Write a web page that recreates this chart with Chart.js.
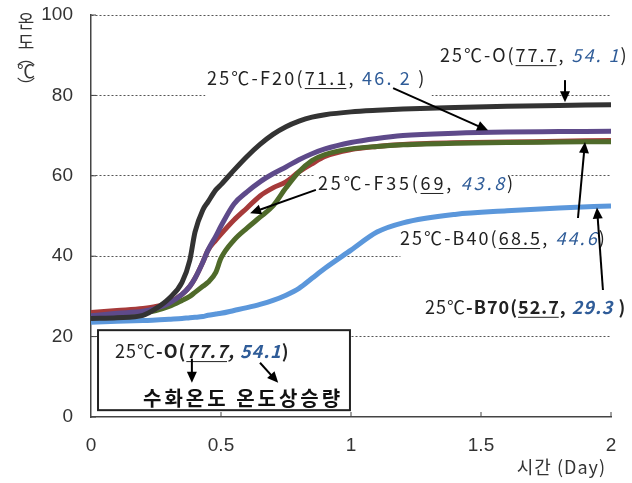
<!DOCTYPE html>
<html>
<head>
<meta charset="utf-8">
<script src="https://cdn.jsdelivr.net/npm/chart.js@4.4.0/dist/chart.umd.min.js"></script>
<style>
  html, body { margin: 0; padding: 0; background: #fff; }
  #wrap { width: 632px; height: 483px; }
</style>
</head>
<body>
<div id="wrap"><canvas id="myChart" width="632" height="483"></canvas></div>
<script>
// time (day)
const times = [0, 0.1, 0.2, 0.25, 0.3, 0.35, 0.38, 0.4, 0.43, 0.45, 0.48, 0.5, 0.55, 0.6, 0.65, 0.7, 0.75, 0.8, 0.85, 0.9, 1.0, 1.1, 1.2, 1.4, 1.6, 1.8, 2.0];
const tempO   = [24.5, 24.7, 25.3, 27, 29.5, 33.5, 39, 46, 51.5, 53.5, 56.5, 57.8, 61.4, 64.8, 67.8, 70.3, 72.2, 73.6, 74.6, 75.2, 75.9, 76.3, 76.6, 77, 77.3, 77.5, 77.7];
const tempF20 = [25.2, 25.8, 26.3, 27, 28.3, 30.5, 32.5, 34.5, 38.5, 41.5, 45, 47.5, 53, 56, 58.5, 60.5, 62.2, 64, 65.5, 66.7, 68.3, 69.3, 70, 70.6, 70.9, 71, 71.1];
const tempF35 = [26, 26.5, 27, 27.5, 28.5, 30.5, 32.5, 34.5, 38.5, 41.5, 44, 45.5, 49, 52, 55, 57, 58.5, 61, 63, 64.8, 66.5, 67.3, 67.8, 68.2, 68.4, 68.6, 68.8];
const tempB40 = [25, 25.4, 26, 26.5, 27.5, 29, 30, 31, 32.5, 33.5, 36, 39.5, 44, 47, 49.7, 52.5, 57, 61, 63.8, 65.3, 66.7, 67.3, 67.7, 68.1, 68.3, 68.4, 68.5];
const tempB70 = [23.6, 23.8, 24, 24.1, 24.3, 24.5, 24.7, 24.8, 25, 25.3, 25.6, 25.8, 26.5, 27.2, 28, 29, 30.3, 32, 34.5, 37, 41.5, 46, 48.3, 50.4, 51.3, 52, 52.5];
const xTicks = [0, 0.5, 1, 1.5, 2];
const yTicks = [0, 20, 40, 60, 80, 100];

// annotation texts: [text, underline, italic, blue, bold]
const noteO = [['25℃-O('], ['77.7', 1], [', '], ['54. 1', 0, 1, 1], [')']];
const noteF20 = [['25℃-F20('], ['71.1', 1], [', '], ['46. 2', 0, 0, 1], [' )']];
const noteF35 = [['25℃-F35('], ['69', 1], [', '], ['43.8', 0, 1, 1], [')']];
const noteB40 = [['25℃-B40('], ['68.5', 1], [', '], ['44.6', 0, 1, 1], [')']];
const noteB70 = [['25℃'], ['-B70(', 0, 0, 0, 1], ['52.7', 1, 0, 0, 1], [', ', 0, 0, 0, 1], ['29.3', 0, 1, 1, 1], [' )', 0, 0, 0, 1]];
const noteKey = [['25℃'], ['-O(', 0, 0, 0, 1], ['77.7', 1, 1, 0, 1], [', ', 0, 1, 0, 1], ['54.1', 0, 1, 1, 1], [')', 0, 0, 0, 1]];
const yTitle = ['온', '도', '︵', '℃', '︶'];

const FONT = '"Noto Sans CJK KR", "Liberation Sans", sans-serif';
const NUMFONT = '"Liberation Sans", Arial, sans-serif';
const BLUE = '#2f5c98';

function pts(ys) {
  return times.map((t, i) => ({ x: t, y: ys[i] }));
}

function richText(ctx, parts, x, y, size, spacing) {
  let cx = x;
  ctx.letterSpacing = (spacing || 0) + 'px';
  parts.forEach(p => {
    const [t, u, it, bl, bo] = p;
    ctx.font = (it ? 'italic ' : '') + (bo ? 'bold ' : '') + size + 'px ' + FONT;
    ctx.fillStyle = bl ? BLUE : '#222';
    ctx.textBaseline = 'middle';
    ctx.textAlign = 'left';
    ctx.fillText(t, cx, y);
    const w = ctx.measureText(t).width;
    if (u) {
      ctx.strokeStyle = '#222';
      ctx.lineWidth = 1;
      ctx.beginPath();
      ctx.moveTo(cx, y + size * 0.58);
      ctx.lineTo(cx + w - (spacing || 0), y + size * 0.58);
      ctx.stroke();
    }
    cx += w;
  });
  ctx.letterSpacing = '0px';
}

function arrow(ctx, x1, y1, x2, y2) {
  const a = Math.atan2(y2 - y1, x2 - x1);
  const h = 11;
  ctx.strokeStyle = '#000';
  ctx.fillStyle = '#000';
  ctx.lineWidth = 2;
  ctx.beginPath();
  ctx.moveTo(x1, y1);
  ctx.lineTo(x2 - Math.cos(a) * h * 0.8, y2 - Math.sin(a) * h * 0.8);
  ctx.stroke();
  ctx.beginPath();
  ctx.moveTo(x2, y2);
  ctx.lineTo(x2 - h * Math.cos(a) + 5 * Math.sin(a), y2 - h * Math.sin(a) - 5 * Math.cos(a));
  ctx.lineTo(x2 - h * Math.cos(a) - 5 * Math.sin(a), y2 - h * Math.sin(a) + 5 * Math.cos(a));
  ctx.closePath();
  ctx.fill();
}

const notesPlugin = {
  id: 'notes',
  beforeDatasetsDraw: (chart) => {
    const { ctx, scales: { x, y } } = chart;
    const box = (x1, y1, x2, y2) => {
      ctx.fillRect(x.getPixelForValue(x1), y.getPixelForValue(y1), x.getPixelForValue(x2) - x.getPixelForValue(x1), y.getPixelForValue(y2) - y.getPixelForValue(y1));
    };
    ctx.save();
    ctx.fillStyle = '#fff';
    // white boxes behind labels (hide grid)
    box(0.44, 89, 1.31, 76);
    box(0.86, 62, 1.61, 55);
    box(1.19, 48, 2.0, 37);
    ctx.restore();
  },
  afterDatasetsDraw: (chart) => {
    const { ctx, scales: { x, y } } = chart;
    const px = v => x.getPixelForValue(v);
    const py = v => y.getPixelForValue(v);
    ctx.save();
    // small inward ticks
    ctx.strokeStyle = '#444';
    ctx.lineWidth = 1;
    xTicks.forEach(t => {
      if (t === 0) return;
      ctx.beginPath();
      ctx.moveTo(px(t), py(0));
      ctx.lineTo(px(t), py(0) - 5);
      ctx.stroke();
    });
    yTicks.forEach(t => {
      ctx.beginPath();
      ctx.moveTo(px(0), py(t));
      ctx.lineTo(px(0) + 5, py(t));
      ctx.stroke();
    });

    richText(ctx, noteO, px(1.342), py(90), 18, 2);
    richText(ctx, noteF20, px(0.446), py(84.3), 18, 2.2);
    richText(ctx, noteF35, px(0.873), py(58.2), 18, 2.8);
    richText(ctx, noteB40, px(1.188), py(44.5), 18, 2.1);
    richText(ctx, noteB70, px(1.285), py(27.4), 18, 1);

    arrow(ctx, px(1.823), py(83.8), px(1.823), py(78.3));
    arrow(ctx, px(1.162), py(81.8), px(1.527), py(71.3));
    arrow(ctx, px(0.865), py(56.5), px(0.612), py(50.7));
    arrow(ctx, px(1.873), py(49.5), px(1.9), py(68.4));
    arrow(ctx, px(1.969), py(31.6), px(1.946), py(52.1));

    // key box
    const bx1 = px(0.027), by1 = py(21.6), bx2 = px(0.996), by2 = py(1.7);
    ctx.fillStyle = '#fff';
    ctx.fillRect(bx1, by1, bx2 - bx1, by2 - by1);
    ctx.strokeStyle = '#222';
    ctx.lineWidth = 2;
    ctx.strokeRect(bx1, by1, bx2 - bx1, by2 - by1);
    richText(ctx, noteKey, bx1 + 17, by1 + 21, 18, 1);
    arrow(ctx, px(0.388), py(14.5), px(0.388), py(8.5));
    arrow(ctx, px(0.65), py(13.5), px(0.72), py(8.5));
    ctx.font = 'bold 20px ' + FONT;
    ctx.fillStyle = '#111';
    ctx.textBaseline = 'middle';
    ctx.letterSpacing = '3px';
    ctx.fillText('수화온도 온도상승량', bx1 + 45, by1 + 68);
    ctx.letterSpacing = '0px';

    // axis titles
    ctx.font = '18px ' + FONT;
    ctx.fillStyle = '#333';
    ctx.textAlign = 'right';
    ctx.letterSpacing = '1px';
    ctx.fillText('시간 (Day)', px(2) - 5, 467);
    ctx.letterSpacing = '0px';
    ctx.textAlign = 'center';
    const ty = [21, 42, 57, 71, 86];
    yTitle.forEach((c, i) => ctx.fillText(c, 26, ty[i]));
    ctx.restore();
  }
};

function ds(data, color, order) {
  return {
    data: pts(data),
    borderColor: color,
    borderWidth: 5,
    pointRadius: 0,
    cubicInterpolationMode: 'monotone',
    fill: false,
    order: order
  };
}

new Chart(document.getElementById('myChart').getContext('2d'), {
  type: 'line',
  data: {
    datasets: [
      ds(tempO, '#333333', 1),
      ds(tempB70, '#5b97db', 2),
      ds(tempF20, '#5e4a8a', 3),
      ds(tempB40, '#4f6a2a', 4),
      ds(tempF35, '#a63a3a', 5)
    ]
  },
  options: {
    responsive: false,
    animation: false,
    layout: { padding: { left: 0, right: 21, top: 15, bottom: 0 } },
    plugins: { legend: { display: false }, tooltip: { enabled: false } },
    scales: {
      x: {
        type: 'linear',
        min: 0,
        max: 2,
        afterFit: (scale) => { scale.height = 66; },
        afterBuildTicks: (scale) => { scale.ticks = xTicks.map(v => ({ value: v })); },
        grid: { drawOnChartArea: false, tickLength: 15, tickColor: 'rgba(0,0,0,0)' },
        border: { color: '#444', width: 1.5 },
        ticks: {
          padding: 2,
          color: '#333',
          font: { size: 19, family: NUMFONT },
          callback: (v) => String(v)
        }
      },
      y: {
        min: 0,
        max: 100,
        afterFit: (scale) => { scale.width = 91; },
        afterBuildTicks: (scale) => { scale.ticks = yTicks.map(v => ({ value: v })); },
        grid: {
          color: (c) => c.tick && c.tick.value === 0 ? 'rgba(0,0,0,0)' : '#555',
          lineWidth: 1,
          tickLength: 16,
          tickColor: 'rgba(0,0,0,0)'
        },
        border: { color: '#444', width: 1.5, dash: [2, 2] },
        ticks: {
          padding: 2,
          color: '#333',
          font: { size: 19, family: NUMFONT }
        }
      }
    }
  },
  plugins: [notesPlugin]
});
</script>
</body>
</html>
